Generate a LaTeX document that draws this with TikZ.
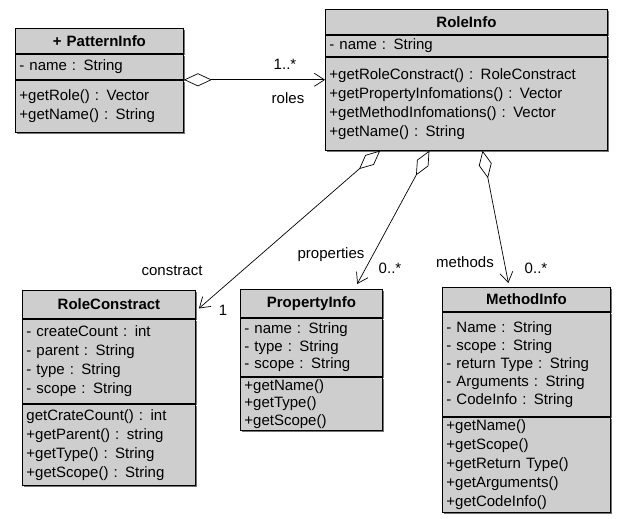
\documentclass[tikz,border=0pt]{standalone}
\usepackage{fontspec}
\setmainfont{Liberation Sans}
\usepackage{tikz}
\usetikzlibrary{arrows.meta,positioning,calc,shadows}
\definecolor{boxgray}{RGB}{206,206,206}
\newcommand{\classfont}{\fontsize{15}{19}\selectfont}
\newcommand{\tightfont}{\fontsize{15}{17.5}\selectfont}
\tikzstyle{classhead}=[draw, line width=0.9pt, fill=boxgray, anchor=north west, inner xsep=4pt, inner ysep=0pt, align=center, font=\classfont\bfseries, drop shadow={shadow xshift=1.4pt, shadow yshift=-1.4pt, fill=black!55, opacity=1}]
\tikzstyle{classpart}=[draw, line width=0.9pt, fill=boxgray, inner xsep=4pt, inner ysep=0pt, align=left, font=\classfont, drop shadow={shadow xshift=1.4pt, shadow yshift=-1.4pt, fill=black!55, opacity=1}]
\tikzstyle{aggr}=[line width=0.7pt, {Diamond[open, length=28pt, width=13pt, line width=0.7pt]}-{Straight Barb[length=10pt, width=13pt, line width=0.7pt]}]
\tikzstyle{lbl}=[inner sep=1pt, font=\classfont]

\begin{document}
\begin{tikzpicture}[x=1pt, y=-1pt]
      %
      \useasboundingbox (0,0) rectangle (619,519);
      %
      % PatternInfo
      %
      \node[classhead, text width=160pt, minimum height=25pt] (pattern) at (15,28) {+ PatternInfo};
      \node[classpart, text width=160pt, minimum height=25pt, below=0pt of pattern] (pattern-attr) {- name : String};
      \node[classpart, text width=160pt, minimum height=52pt, below=0pt of pattern-attr] (pattern-ops)
        {+getRole() : Vector\\+getName() : String};
      %
      % RoleInfo
      %
      \node[classhead, text width=274pt, minimum height=25pt] (role) at (325,9) {RoleInfo};
      \node[classpart, text width=274pt, minimum height=21pt, below=0pt of role] (role-attr) {- name : String};
      \node[classpart, text width=274pt, minimum height=93pt, below=0pt of role-attr] (role-ops)
        {+getRoleConstract() : RoleConstract\\+getPropertyInfomations() : Vector\\
         +getMethodInfomations() : Vector\\+getName() : String};
      %
      % RoleConstract
      %
      \node[classhead, text width=165pt, minimum height=28pt] (constract) at (22,290) {RoleConstract};
      \node[classpart, text width=165pt, minimum height=84pt, below=0pt of constract] (constract-attr)
        {- createCount : int\\- parent : String\\- type : String\\- scope : String};
      \node[classpart, text width=165pt, minimum height=81pt, below=0pt of constract-attr] (constract-ops)
        {getCrateCount() : int\\+getParent() : string\\+getType() : String\\+getScope() : String};
      %
      % PropertyInfo
      %
      \node[classhead, text width=134pt, minimum height=28pt] (property) at (240,289) {PropertyInfo};
      \node[classpart, text width=134pt, minimum height=58pt, font=\tightfont, below=0pt of property] (property-attr)
        {- name : String\\- type : String\\- scope : String};
      \node[classpart, text width=134pt, minimum height=53pt, font=\tightfont, below=0pt of property-attr] (property-ops)
        {+getName()\\+getType()\\+getScope()};
      %
      % MethodInfo
      %
      \node[classhead, text width=160pt, minimum height=24pt] (method) at (442,287) {MethodInfo};
      \node[classpart, text width=160pt, minimum height=104pt, font=\fontsize{15}{18}\selectfont, below=0pt of method] (method-attr)
        {- Name : String\\- scope : String\\- return Type : String\\- Arguments : String\\- CodeInfo : String};
      \node[classpart, text width=160pt, minimum height=95pt, below=0pt of method-attr] (method-ops)
        {+getName()\\+getScope()\\+getReturn Type()\\+getArguments()\\+getCodeInfo()};
      %
      % PatternInfo <>--> RoleInfo
      %
      \draw[aggr] (pattern-attr.south east) -- (pattern-attr.south east -| role-ops.west);
      \node[lbl] (roles-mult) at (285,64) {1..*};
      \node[lbl] (roles-name) at (288,98) {roles};
      %
      % RoleInfo <>--> RoleConstract, PropertyInfo, MethodInfo
      %
      \coordinate (role-c) at ($(role-ops.south west)!0.195!(role-ops.south east)$);
      \coordinate (role-p) at ($(role-ops.south west)!0.369!(role-ops.south east)$);
      \coordinate (role-m) at ($(role-ops.south west)!0.557!(role-ops.south east)$);
      \draw[aggr] (role-c) -- ($(constract.east)+(3,4)$);
      \draw[aggr] (role-p) -- ($(property.north west)!0.82!(property.north east)+(0,-5)$);
      \draw[aggr] (role-m) -- ($(method.north west)!0.393!(method.north east)+(0,-4)$);
      \node[lbl] (constract-name) at (172,271) {constract};
      \node[lbl] (constract-mult) at (223,310) {1};
      \node[lbl] (property-name) at (331,255) {properties};
      \node[lbl] (property-mult) at (390,268) {0..*};
      \node[lbl] (method-name) at (465,262) {methods};
      \node[lbl] (method-mult) at (536,268) {0..*};
      %
    \end{tikzpicture}
\end{document}
